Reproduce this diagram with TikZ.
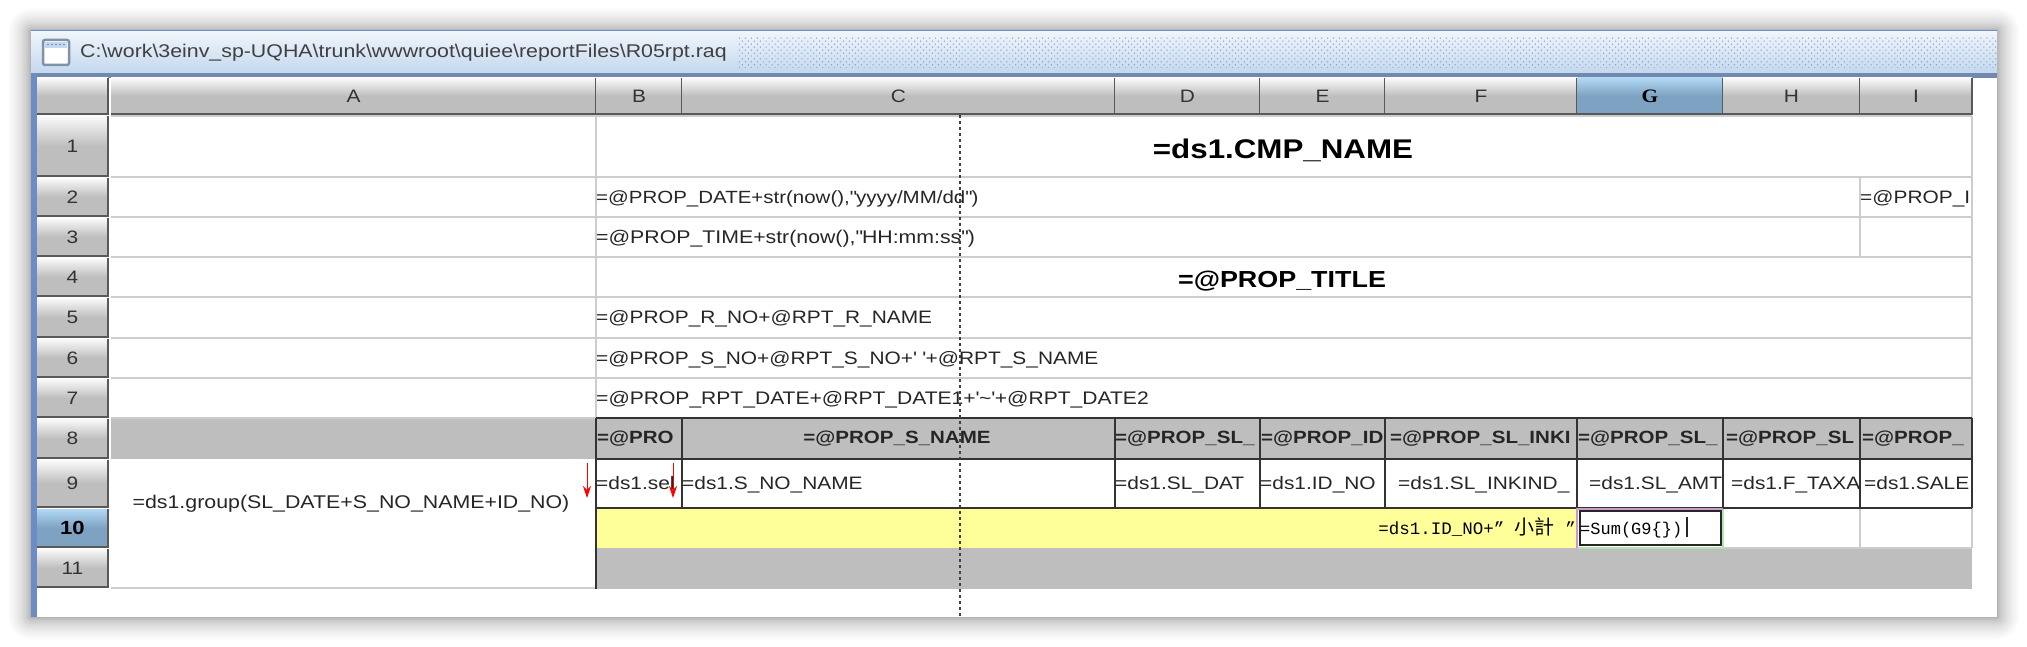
\documentclass[tikz,border=0pt]{standalone}
\usepackage{fontspec}
\setmainfont[FakeStretch=1.16]{Liberation Sans}
\newfontfamily\selfont[FakeStretch=1.12]{Liberation Serif}
\newfontfamily\monofont{Liberation Mono}
\newfontfamily\cjkfont{Noto Sans CJK TC}
\usetikzlibrary{arrows.meta, positioning, calc, patterns.meta}
\definecolor{headgray}{HTML}{BEBEBE}
\definecolor{headlight}{HTML}{FAFAFA}
\definecolor{selblue}{HTML}{7EA2C2}
\definecolor{sellight}{HTML}{B0D8F4}
\definecolor{gridgray}{HTML}{CDCDCD}
\definecolor{edgedark}{HTML}{333333}
\definecolor{sumyellow}{HTML}{FFFF99}
\definecolor{winblue}{HTML}{6C8CC6}
\definecolor{iconframe}{HTML}{7E93A8}
\definecolor{barbottom}{HTML}{C3D8EE}
\definecolor{bartop}{HTML}{F0F5FB}
\pgfdeclareverticalshading{headshade}{100bp}{color(0bp)=(headgray); color(25bp)=(headgray); color(50bp)=(headgray); color(75bp)=(headlight); color(100bp)=(headlight)}
\pgfdeclareverticalshading{selshade}{100bp}{color(0bp)=(selblue); color(25bp)=(selblue); color(50bp)=(selblue); color(75bp)=(sellight); color(100bp)=(sellight)}
\tikzset{
  headcell/.style={shading=headshade, inner sep=0pt, text=black!80, font=\fontsize{18}{20}\selectfont},
  selcell/.style={shading=selshade, inner sep=0pt, font=\fontsize{19}{20}\selectfont\bfseries},
  formula/.style={inner sep=0pt, anchor=mid west, text=black!85, font=\fontsize{18}{20}\selectfont},
  boldhead/.style={formula, font=\fontsize{17.7}{20}\selectfont\bfseries},
  gridline/.style={gridgray, line width=1.8pt},
  darkline/.style={edgedark, line width=1.8pt},
  headedge/.style={black!65, line width=1.6pt},
}
\begin{document}
\begin{tikzpicture}[x=1pt, y=-1pt, >=Stealth]
\useasboundingbox (0,0) rectangle (2027,647);
\fill[white] (0,0) rectangle (2027,647);
% soft shadow round the window
\foreach \i in {1,...,22} {
  \pgfmathsetmacro\r{\i*\i/22}
  \fill[black, opacity=.016, rounded corners=\r pt] (31-\r,31-\r) rectangle (1997+\r,617+\r);
}
\fill[white] (31,31) rectangle (1997,617);
\fill[winblue] (31,31) rectangle (37,617);
% title bar
\shade[top color=bartop, bottom color=barbottom] (31,32) rectangle (1997,73);
\draw[winblue, line width=1pt] (31,31) -- (1997,31);
\fill[winblue!70!gray] (37,73) rectangle (1997,78);
\fill[pattern={Dots[distance=4.2pt, angle=45, radius=.7pt]}, pattern color=winblue] (737,37) rectangle (1997,68);
\draw[iconframe, line width=2.5pt, fill=white, rounded corners=2pt] (43,40) rectangle (69,65);
\fill[barbottom] (45,42) rectangle (67,48);
\foreach \x in {48,52,...,64}
  \fill[winblue] (\x,44.5) circle (.8pt);
\node[inner sep=0pt, anchor=mid west, text=black!75, font=\fontsize{18.4}{20}\selectfont] (path) at (80,55) {C:\textbackslash work\textbackslash 3einv\_sp-UQHA\textbackslash trunk\textbackslash wwwroot\textbackslash quiee\textbackslash reportFiles\textbackslash R05rpt.raq};
% column and row buttons
\foreach \nm/\a/\b/\st in {corner/37/108/headcell, A/111/596/headcell, B/596/682/headcell, C/682/1115/headcell, D/1115/1260/headcell, E/1260/1385/headcell, F/1385/1577/headcell, G/1577/1723/selcell, H/1723/1860/headcell, I/1860/1972/headcell} {
  \node[\st, minimum width={(\b-\a)*1pt}, minimum height=36pt] (col\nm) at ({(\a+\b)/2},96) {};
  \draw[headedge] (col\nm.south west) -- (col\nm.south east) -- (col\nm.north east);
}
\foreach \n/\a/\b/\st in {1/116/176/headcell, 2/178/216/headcell, 3/218/256/headcell, 4/258/296/headcell, 5/298/337/headcell, 6/339/377/headcell, 7/379/417/headcell, 8/419/458/headcell, 9/460/507/headcell, 10/509/547/selcell, 11/549/587/headcell} {
  \node[\st, minimum width=71pt, minimum height={(\b-\a)*1pt}] (row\n) at (72.5,{(\a+\b)/2}) {\n};
  \draw[headedge] (row\n.south west) -- (row\n.south east) -- (row\n.north east);
}
\foreach \nm in {A,B,C,D,E,F,H,I}
  \node[inner sep=0pt, text=black!80, font=\fontsize{18}{20}\selectfont] (lab\nm) at (col\nm.center) {\nm};
\node[inner sep=0pt, font=\fontsize{19}{20}\selectfont\bfseries\selfont] (labG) at (colG.center) {G};
% fills
\fill[headgray] (111,419) rectangle (596,459);
\fill[headgray] (596,419) rectangle (1972,459);
\fill[sumyellow] (596,509) rectangle (1577,548);
\fill[headgray] (596,548) rectangle (1972,589);
% light grid
\foreach \y/\e in {116/1972,177/1972,217/1972,257/1972,297/1972,338/1972,378/1972,418/596,588/596}
  \draw[gridline] (111,\y) -- (\e,\y);
\draw[gridline] (596,116) -- (596,418);
\draw[gridline] (1860,177) -- (1860,257);
\draw[gridline] (1972,116) -- (1972,418);
\draw[gridline] (1723,548) -- (1972,548);
\draw[gridline] (1860,508) -- (1860,548);
\draw[gridline] (1972,508) -- (1972,548);
% dark grid of the detail rows
\foreach \y in {418,459,508}
  \draw[darkline] (596,\y) -- (1972,\y);
\foreach \x in {682,1115,1260,1385,1577,1723,1860,1972}
  \draw[darkline] (\x,418) -- (\x,508);
\draw[darkline] (596,418) -- (596,589);
% cell being edited
\fill[white] (1578,510) rectangle (1722,547);
\draw[green!50!gray!40, line width=1.4pt] (1578,548) -- (1723,548) -- (1723,509);
\draw[violet!40, line width=1.4pt] (1577,548) -- (1577,509) -- (1723,509);
\draw[black!85, line width=1.6pt] (1580,511) rectangle (1721,545);
\draw[black!85, line width=1.4pt] (1687,517) -- (1687,537);
% cell texts
\node[inner sep=0pt, font=\fontsize{27}{30}\selectfont\bfseries] (cmpname) at (1283,150) {=ds1.CMP\_NAME};
\node[inner sep=0pt, font=\fontsize{23.2}{26}\selectfont\bfseries] (rpttitle) at (1282,281) {=@PROP\_TITLE};
\node[formula, font=\fontsize{17.65}{20}\selectfont] (dateval) at (596,201) {=@PROP\_DATE+str(now(),\textquotedbl yyyy/MM/dd\textquotedbl)};
\node[formula] (pageval) at (1860,201) {=@PROP\_I};
\node[formula, font=\fontsize{18.35}{20}\selectfont] (timeval) at (596,241) {=@PROP\_TIME+str(now(),\textquotedbl HH:mm:ss\textquotedbl)};
\node[formula] (rnoval) at (596,321) {=@PROP\_R\_NO+@RPT\_R\_NAME};
\node[formula] (snoval) at (596,362) {=@PROP\_S\_NO+@RPT\_S\_NO+\textquotesingle{} \textquotesingle+@RPT\_S\_NAME};
\node[formula, font=\fontsize{18.15}{20}\selectfont] (rdateval) at (596,402) {=@PROP\_RPT\_DATE+@RPT\_DATE1+\textquotesingle\textasciitilde\textquotesingle+@RPT\_DATE2};
\node[boldhead] (headB) at (597,441) {=@PRO};
\node[boldhead, anchor=mid] (headC) at (897,441) {=@PROP\_S\_NAME};
\node[boldhead] (headD) at (1115,441) {=@PROP\_SL\_};
\node[boldhead] (headE) at (1261,441) {=@PROP\_ID};
\node[boldhead] (headF) at (1390,441) {=@PROP\_SL\_INKI};
\node[boldhead] (headG) at (1578,441) {=@PROP\_SL\_};
\node[boldhead] (headH) at (1726,441) {=@PROP\_SL};
\node[boldhead] (headI) at (1862,441) {=@PROP\_};
\node[formula] (seqval) at (596,487) {=ds1.sel};
\node[formula] (snameval) at (682,487) {=ds1.S\_NO\_NAME};
\node[formula] (dateitem) at (1115,487) {=ds1.SL\_DAT};
\node[formula] (iditem) at (1260,487) {=ds1.ID\_NO};
\node[formula] (kinditem) at (1398,487) {=ds1.SL\_INKIND\_};
\node[formula] (amtitem) at (1589,487) {=ds1.SL\_AMT};
\node[formula] (taxitem) at (1731,487) {=ds1.F\_TAXA};
\node[formula] (saleitem) at (1864,487) {=ds1.SALE};
\node[formula, anchor=mid, font=\fontsize{18.4}{20}\selectfont] (groupval) at (351,506) {=ds1.group(SL\_DATE+S\_NO\_NAME+ID\_NO)};
\node[inner sep=0pt, anchor=mid east, font=\fontsize{17.5}{20}\selectfont\monofont] (subtotal) at (1576,532) {=ds1.ID\_NO+” {\cjkfont\fontsize{20}{20}\selectfont 小計} ”};
\node[inner sep=0pt, anchor=mid west, font=\fontsize{17}{20}\selectfont\monofont] (sumval) at (1580,532) {=Sum(G9\{\})};
% the two group marks
\coordinate (markAtop) at (587,463);
\coordinate (markAend) at (587,498);
\coordinate (markBtop) at (673,463);
\coordinate (markBend) at (673,498);
\draw[->, red, line width=1pt, >={Stealth[length=12pt, width=8pt]}] (markAtop) -- (markAend);
\draw[->, red, line width=1pt, >={Stealth[length=12pt, width=8pt]}] (markBtop) -- (markBend);
% split line
\coordinate (splitTop) at (960,115);
\coordinate (splitEnd) at (960,616);
\draw[black!75, line width=1.5pt, dash pattern=on 3pt off 3pt] (splitTop) -- (splitEnd);
\end{tikzpicture}
\end{document}
